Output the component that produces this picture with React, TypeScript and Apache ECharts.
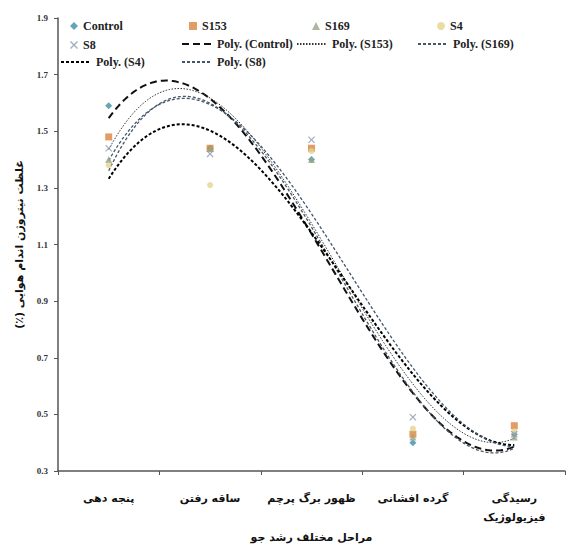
import React, { useEffect, useRef } from "react";
import * as echarts from "echarts";

const categories = ["پنجه دهی", "ساقه رفتن", "ظهور برگ پرچم", "گرده افشانی", "رسیدگی\nفیزیولوژیک"];
const seriesNames = ["Control", "S153", "S169", "S4", "S8"];
const controlValues = [1.59, 1.44, 1.40, 0.40, 0.43];
const s153Values = [1.48, 1.44, 1.44, 0.43, 0.46];
const s169Values = [1.40, 1.44, 1.40, 0.42, 0.42];
const s4Values = [1.38, 1.31, 1.43, 0.45, 0.44];
const s8Values = [1.44, 1.42, 1.47, 0.49, 0.43];
const yTicks = [0.3, 0.5, 0.7, 0.9, 1.1, 1.3, 1.5, 1.7, 1.9];

const allValues = [controlValues, s153Values, s169Values, s4Values, s8Values];

function polyfit(xs: number[], ys: number[], order: number): number[] {
  const n = order + 1;
  const A: number[][] = [];
  for (let r = 0; r < n; r++) {
    const row: number[] = [];
    for (let c = 0; c < n; c++) {
      let s = 0;
      for (const x of xs) s += Math.pow(x, r + c);
      row.push(s);
    }
    let b = 0;
    xs.forEach((x, i) => (b += ys[i] * Math.pow(x, r)));
    row.push(b);
    A.push(row);
  }
  for (let i = 0; i < n; i++) {
    let p = i;
    for (let k = i + 1; k < n; k++) if (Math.abs(A[k][i]) > Math.abs(A[p][i])) p = k;
    [A[i], A[p]] = [A[p], A[i]];
    for (let k = i + 1; k < n; k++) {
      const f = A[k][i] / A[i][i];
      for (let c = i; c <= n; c++) A[k][c] -= f * A[i][c];
    }
  }
  const coef = new Array(n).fill(0);
  for (let i = n - 1; i >= 0; i--) {
    let s = A[i][n];
    for (let c = i + 1; c < n; c++) s -= A[i][c] * coef[c];
    coef[i] = s / A[i][i];
  }
  return coef;
}

function trend(values: number[]): number[][] {
  const xs = values.map((_, i) => i + 1);
  const coef = polyfit(xs, values, 3);
  const pts: number[][] = [];
  for (let k = 0; k <= 120; k++) {
    const x = 1 + (4 * k) / 120;
    let y = 0;
    coef.forEach((c, p) => (y += c * Math.pow(x, p)));
    pts.push([x, y]);
  }
  return pts;
}

const crossPath =
  "path://M0,1.2L1.2,0L5,3.8L8.8,0L10,1.2L6.2,5L10,8.8L8.8,10L5,6.2L1.2,10L0,8.8L3.8,5Z";

const markerStyles = [
  { symbol: "diamond", color: "#3f8ea3", size: 7 },
  { symbol: "rect", color: "#d9843f", size: 7 },
  { symbol: "triangle", color: "#97a584", size: 7 },
  { symbol: "circle", color: "#e3d38f", size: 6 },
  { symbol: crossPath, color: "#8a9aac", size: 7 },
];

const trendStyles = [
  { color: "#111111", width: 2, type: [7, 4] },
  { color: "#333333", width: 1, type: [1.5, 1.5] },
  { color: "#4a5560", width: 1.3, type: [3, 2] },
  { color: "#000000", width: 2, type: [3, 2] },
  { color: "#3e5670", width: 1.3, type: [3, 2] },
];

const legendPos = [
  { name: "Control", left: 70, top: 20, line: false },
  { name: "S153", left: 189, top: 20, line: false },
  { name: "S169", left: 312, top: 20, line: false },
  { name: "S4", left: 437, top: 20, line: false },
  { name: "S8", left: 70, top: 39, line: false },
  { name: "Poly. (Control)", left: 181, top: 38, line: true },
  { name: "Poly. (S153)", left: 296, top: 38, line: true },
  { name: "Poly. (S169)", left: 417, top: 38, line: true },
  { name: "Poly. (S4)", left: 60, top: 56, line: true },
  { name: "Poly. (S8)", left: 181, top: 56, line: true },
];

export default function App() {
  const ref = useRef<HTMLDivElement>(null);
  useEffect(() => {
    if (!ref.current) return;
    const chart = echarts.init(ref.current, null, { renderer: "svg" });
    const serif = "'Liberation Serif', 'Times New Roman', serif";
    const persian = "'DejaVu Sans', sans-serif";
    const scatter = seriesNames.map((name, i) => ({
      name,
      type: "scatter",
      xAxisIndex: 1,
      symbol: markerStyles[i].symbol,
      symbolSize: markerStyles[i].size,
      itemStyle: { color: markerStyles[i].color },
      data: allValues[i].map((v, j) => [j + 1, v]),
      z: 3,
    }));
    const lines = seriesNames.map((name, i) => ({
      name: `Poly. (${name})`,
      type: "line",
      xAxisIndex: 1,
      symbol: "none",
      showSymbol: false,
      lineStyle: {
        color: trendStyles[i].color,
        width: trendStyles[i].width,
        type: trendStyles[i].type,
      },
      itemStyle: { color: trendStyles[i].color },
      data: trend(allValues[i]),
      z: 2,
    }));
    const legends = legendPos.map((l) => {
      const base: any = {
        data: [l.name],
        left: l.left,
        top: l.top,
        padding: 0,
        itemWidth: l.line ? 30 : 8,
        itemHeight: l.line ? 10 : 8,
        textStyle: { fontFamily: serif, fontWeight: "bold", fontSize: 12, color: "#222" },
        selectedMode: false,
      };
      if (l.line) base.itemStyle = { opacity: 0 };
      return base;
    });
    chart.setOption({
      animation: false,
      backgroundColor: "#ffffff",
      legend: legends,
      grid: { left: 58, top: 18, right: 3, bottom: 77 },
      xAxis: [
        {
          type: "category",
          data: categories,
          boundaryGap: true,
          axisLine: { lineStyle: { color: "#555", width: 1.5 } },
          axisTick: { show: true, length: 4, lineStyle: { color: "#555" } },
          axisLabel: {
            interval: 0,
            fontFamily: persian,
            fontWeight: "bold",
            fontSize: 11,
            color: "#111",
            margin: 18,
            lineHeight: 19,
          },
          name: "مراحل مختلف رشد جو",
          nameLocation: "middle",
          nameGap: 50,
          nameTextStyle: {
            fontFamily: persian,
            fontWeight: "bold",
            fontSize: 11,
            color: "#111",
          },
        },
        { type: "value", min: 0.5, max: 5.5, show: false },
      ],
      yAxis: {
        type: "value",
        min: yTicks[0],
        max: yTicks[yTicks.length - 1],
        interval: 0.2,
        splitLine: { show: false },
        axisLine: { show: true, lineStyle: { color: "#555", width: 1.5 } },
        axisTick: { show: true, length: 4, lineStyle: { color: "#555" } },
        axisLabel: {
          fontFamily: serif,
          fontWeight: "bold",
          fontSize: 9,
          color: "#333",
          margin: 10,
          formatter: (v: number) => v.toFixed(1),
        },
        name: "غلظت نیتروژن اندام هوایی (٪)\u200F",
        nameLocation: "middle",
        nameRotate: 90,
        nameGap: 33,
        nameTextStyle: {
          fontFamily: persian,
          fontWeight: "bold",
          fontSize: 11,
          color: "#111",
        },
      },
      series: [...scatter, ...lines],
    });
    return () => chart.dispose();
  }, []);
  return (
    <div
      ref={ref}
      style={{ position: "absolute", left: 0, top: 0, width: 568, height: 548 }}
    />
  );
}
